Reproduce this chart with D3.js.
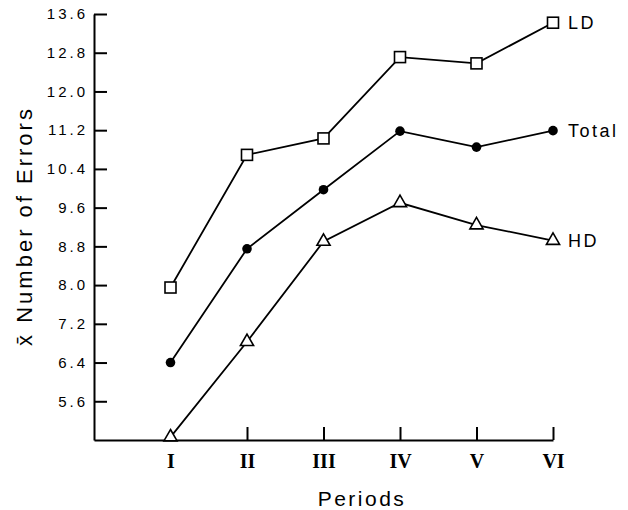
<!DOCTYPE html>
<html lang="en">
<head>
    <meta charset="UTF-8">
    <title>Number of Errors by Period</title>
    <script src="https://d3js.org/d3.v7.min.js"></script>
    <style>
        body { margin: 0; background: #fff; }
        svg { display: block; font-family: "Liberation Sans", Arial, sans-serif; }
        .axis path, .axis line { stroke: #000; stroke-width: 2; }
        .line { fill: none; stroke: #000; stroke-width: 1.8; }
    </style>
</head>
<body>
<div id="chart"></div>
<script>
// Values
const periods = ['I', 'II', 'III', 'IV', 'V', 'VI'];
const ldValues = [7.95, 10.69, 11.03, 12.71, 12.58, 13.42];
const totalValues = [6.40, 8.75, 9.97, 11.18, 10.85, 11.19];
const hdValues = [4.86, 6.83, 8.90, 9.70, 9.24, 8.92];
const yTicks = [5.6, 6.4, 7.2, 8.0, 8.8, 9.6, 10.4, 11.2, 12.0, 12.8, 13.6];
const seriesNames = ['LD', 'Total', 'HD'];

const width = 628, height = 510;

const svg = d3.select('#chart').append('svg')
    .attr('width', width)
    .attr('height', height);

// scales: period index 0..6, first period sits one step right of the y axis
const x = d3.scaleLinear().domain([0, 6]).range([94, 553]);
const y = d3.scaleLinear().domain([4.8, 13.6]).range([440, 14]);

// y axis with inward ticks
const yAxis = svg.append('g')
    .attr('class', 'axis')
    .attr('transform', `translate(${x(0)},0)`)
    .call(d3.axisLeft(y).tickValues(yTicks).tickFormat(d3.format('.1f'))
        .tickSizeInner(-13).tickSizeOuter(0).tickPadding(6));
yAxis.selectAll('text')
    .style('font-size', '15px')
    .style('letter-spacing', '3px')
    .style('fill', '#000');

// x axis with upward ticks and roman numerals
const xAxis = svg.append('g')
    .attr('class', 'axis')
    .attr('transform', `translate(0,${y(4.8)})`)
    .call(d3.axisBottom(x).tickValues(d3.range(1, 7)).tickFormat(i => periods[i - 1])
        .tickSizeInner(-13).tickSizeOuter(0).tickPadding(14));
xAxis.selectAll('.tick').filter(d => d === 1).select('line').remove();
xAxis.selectAll('text')
    .style('font-family', '"Liberation Serif", "Times New Roman", serif')
    .style('font-weight', 'bold')
    .style('font-size', '20px')
    .style('fill', '#000');

// axis titles
svg.append('text')
    .attr('x', 362)
    .attr('y', 506)
    .attr('text-anchor', 'middle')
    .style('font-size', '21px')
    .style('letter-spacing', '2.5px')
    .text('Periods');

svg.append('text')
    .attr('transform', 'translate(32,226) rotate(-90)')
    .attr('text-anchor', 'middle')
    .style('font-size', '22px')
    .style('letter-spacing', '3px')
    .text('x\u0304 Number of Errors');

// lines
const line = d3.line()
    .x((d, i) => x(i + 1))
    .y(d => y(d));

[ldValues, totalValues, hdValues].forEach(vals => {
    svg.append('path')
        .datum(vals)
        .attr('class', 'line')
        .attr('d', line);
});

// LD: open squares
svg.selectAll('.sq')
    .data(ldValues)
  .enter().append('rect')
    .attr('x', (d, i) => x(i + 1) - 5.5)
    .attr('y', d => y(d) - 5.5)
    .attr('width', 11)
    .attr('height', 11)
    .style('fill', '#fff')
    .style('stroke', '#000')
    .style('stroke-width', 1.6);

// Total: filled circles
svg.selectAll('.dot')
    .data(totalValues)
  .enter().append('circle')
    .attr('cx', (d, i) => x(i + 1))
    .attr('cy', d => y(d))
    .attr('r', 4.8)
    .style('fill', '#000');

// HD: open triangles
const tri = d3.symbol().type(d3.symbolTriangle).size(75);
svg.selectAll('.tri')
    .data(hdValues)
  .enter().append('path')
    .attr('d', tri)
    .attr('transform', (d, i) => `translate(${x(i + 1)},${y(d)})`)
    .style('fill', '#fff')
    .style('stroke', '#000')
    .style('stroke-width', 1.6);

// series labels at the right end
const lastVals = [ldValues[5], totalValues[5], hdValues[5]];
svg.selectAll('.lab')
    .data(seriesNames)
  .enter().append('text')
    .attr('x', x(6) + 15)
    .attr('y', (d, i) => y(lastVals[i]))
    .attr('dy', '0.35em')
    .style('font-size', '18px')
    .style('letter-spacing', '2.5px')
    .text(d => d);
</script>
</body>
</html>
